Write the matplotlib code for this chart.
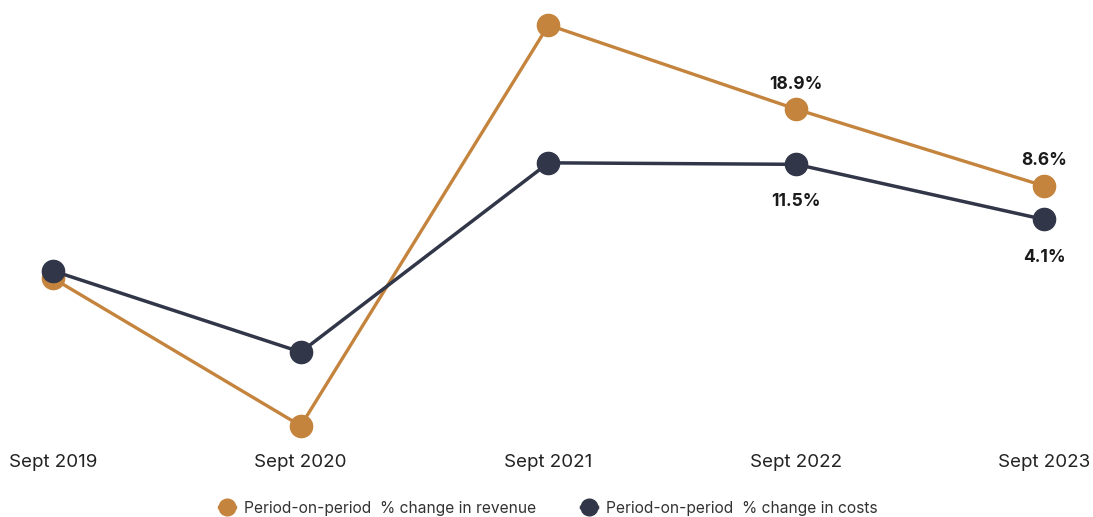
import numpy as np
import matplotlib
matplotlib.use("Agg")
import matplotlib.pyplot as plt

plt.rcParams['font.family'] = ['Inter', 'DejaVu Sans']

periods = ["Sept 2019", "Sept 2020", "Sept 2021", "Sept 2022", "Sept 2023"]
revenue = [-3.8, -23.6, 30.2, 18.9, 8.6]
costs = [-2.8, -13.7, 11.7, 11.5, 4.1]

rev_color = "#C5843D"
cost_color = "#313749"

fig = plt.figure(figsize=(10.93, 5.17), dpi=100)
ax = fig.add_axes([0, 1 - 440 / 517, 1, 440 / 517])

x = np.arange(len(periods))
ax.plot(x, revenue, color=rev_color, lw=2.4, marker="o", ms=16,
        label="Period-on-period  % change in revenue", zorder=3)
ax.plot(x, costs, color=cost_color, lw=2.5, marker="o", ms=16,
        label="Period-on-period  % change in costs", zorder=4)

# value labels on last two points
for i in [3, 4]:
    ax.annotate(f"{revenue[i]}%", (x[i], revenue[i]), xytext=(0, 12),
                textcoords="offset points", ha="center", va="bottom",
                fontsize=12.5, fontweight="bold", color="#1a1a1a")
    ax.annotate(f"{costs[i]}%", (x[i], costs[i]), xytext=(0, -21),
                textcoords="offset points", ha="center", va="top",
                fontsize=12.5, fontweight="bold", color="#1a1a1a")

ax.set_xlim(-53 / 247.75, 4 + 49 / 247.75)
ax.set_ylim(-190 / 7.45, 250 / 7.45)
ax.set_xticks(x)
ax.set_xticklabels(periods, fontsize=13.5, color="#222222")
ax.tick_params(axis="x", length=0, pad=10)
ax.set_yticks([])
for s in ax.spines.values():
    s.set_visible(False)

fig.legend(loc="center", bbox_to_anchor=(0.502, 1 - 508 / 517), ncol=2,
           frameon=False, fontsize=11.2, markerscale=0.75, handlelength=1.0,
           handletextpad=0.6, columnspacing=2.9, labelcolor="#333333")

fig.savefig("out.png", dpi=100)
